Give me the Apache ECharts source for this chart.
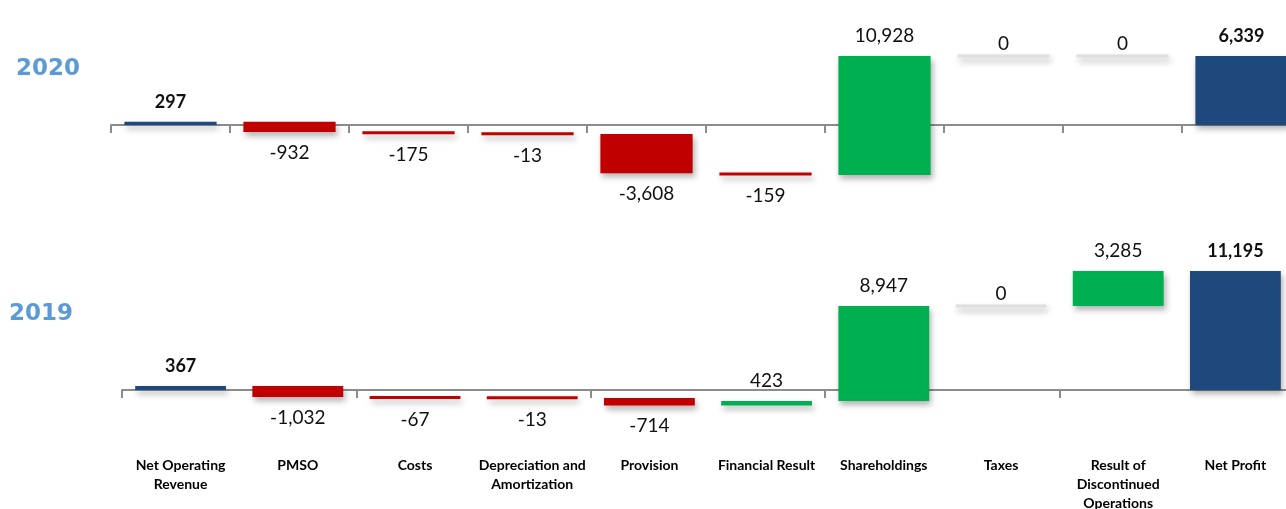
<!DOCTYPE html>
<html><head><meta charset="utf-8">
<script src="https://cdn.jsdelivr.net/npm/echarts@6/dist/echarts.min.js"></script>
<style>html,body{margin:0;padding:0;background:#fff;overflow:hidden}#c{width:1286px;height:509px}</style>
</head><body><div id="c"></div>
<script>
const categories = ['Net Operating\nRevenue', 'PMSO', 'Costs', 'Depreciation and\nAmortization', 'Provision', 'Financial Result', 'Shareholdings', 'Taxes', 'Result of\nDiscontinued\nOperations', 'Net Profit'];
const values2020 = [297, -932, -175, -13, -3608, -159, 10928, 0, 0, 6339];
const values2019 = [367, -1032, -67, -13, -714, 423, 8947, 0, 3285, 11195];
const totalFlags = [1, 0, 0, 0, 0, 0, 0, 0, 0, 1];
const yearLabels = ['2020', '2019'];

const COLORS = { total: '#1f497d', up: '#00b050', down: '#c00000', zero: '#dedede' };
const VALUE_FONT = 'Lato';

function buildWaterfall(vals) {
  let cum = 0; const out = [];
  vals.forEach((v, i) => {
    let s, e;
    if (totalFlags[i]) { s = 0; e = v; cum = v; }
    else { s = cum; e = cum + v; cum = e; }
    out.push([i, s, e, v, totalFlags[i]]);
  });
  return out;
}

function renderItem(params, api) {
  const i = api.value(0), s = api.value(1), e = api.value(2), v = api.value(3), tot = api.value(4);
  const a = api.coord([i, s]), b = api.coord([i, e]);
  const w = api.size([1, 0])[0] * 0.775;
  let y0 = Math.min(a[1], b[1]), y1 = Math.max(a[1], b[1]);
  if (y1 - y0 < 3) { const m = (y0 + y1) / 2; y0 = m - 1.5; y1 = m + 1.5; }
  let color = tot ? COLORS.total : (v > 0 ? COLORS.up : (v < 0 ? COLORS.down : COLORS.zero));
  const gap = 11;
  const pos = v >= 0;
  const txt = v.toLocaleString('en-US');
  return {
    type: 'group',
    children: [
      { type: 'rect', shape: { x: a[0] - w / 2, y: y0, width: w, height: y1 - y0 },
        style: { fill: color, shadowBlur: 6, shadowOffsetX: 2, shadowOffsetY: 4, shadowColor: 'rgba(0,0,0,0.3)' } },
      { type: 'text', style: { text: txt, x: a[0], y: pos ? y0 - (v === 0 ? 1 : gap) : y1 + gap,
        align: 'center', verticalAlign: pos ? 'bottom' : 'top',
        fontFamily: VALUE_FONT, fontSize: tot ? 18 : 19, fontWeight: tot ? 'bold' : 'normal', fill: '#111' } }
    ]
  };
}

const axisColor = '#8c8c8c';
function baseX(gridIndex) {
  return {
    type: 'category', gridIndex, data: categories, boundaryGap: true,
    axisLine: { show: true, onZero: true, lineStyle: { color: axisColor, width: 2 } },
    axisTick: { show: true, length: 8, lineStyle: { color: axisColor, width: 2 } },
    axisLabel: { show: false }, splitLine: { show: false }
  };
}
function baseY(gridIndex, min, max) {
  return { type: 'value', gridIndex, min, max, show: false, splitLine: { show: false } };
}

const chart = echarts.init(document.getElementById('c'), null, { renderer: 'canvas' });
chart.setOption({
  animation: false,
  backgroundColor: '#fff',
  graphic: [
    { type: 'text', left: 16, top: 58, style: { text: yearLabels[0], fontFamily: 'DejaVu Sans', fontWeight: 'bold', fontSize: 23, fill: '#5b9bd5' } },
    { type: 'text', left: 9, top: 303, style: { text: yearLabels[1], fontFamily: 'DejaVu Sans', fontWeight: 'bold', fontSize: 23, fill: '#5b9bd5' } }
  ],
  grid: [
    { left: 111, width: 1190, top: 37.9, height: 152.4, outerBoundsMode: 'none', containLabel: false },
    { left: 122, width: 1172, top: 262.4, height: 191.4, outerBoundsMode: 'none', containLabel: false }
  ],
  xAxis: [
    baseX(0),
    baseX(1),
    { type: 'category', gridIndex: 1, data: categories, position: 'bottom',
      axisLine: { show: false, onZero: false }, axisTick: { show: false },
      axisLabel: { show: true, interval: 0, margin: 2, fontFamily: 'Lato', fontWeight: 'bold', fontSize: 14, lineHeight: 19, color: '#000' } }
  ],
  yAxis: [ baseY(0, -6000, 8000), baseY(1, -6000, 12000) ],
  series: [
    { type: 'custom', xAxisIndex: 0, yAxisIndex: 0, renderItem, encode: { x: 0, y: [1, 2] }, data: buildWaterfall(values2020), clip: false },
    { type: 'custom', xAxisIndex: 1, yAxisIndex: 1, renderItem, encode: { x: 0, y: [1, 2] }, data: buildWaterfall(values2019), clip: false }
  ]
});
</script>
</body></html>
